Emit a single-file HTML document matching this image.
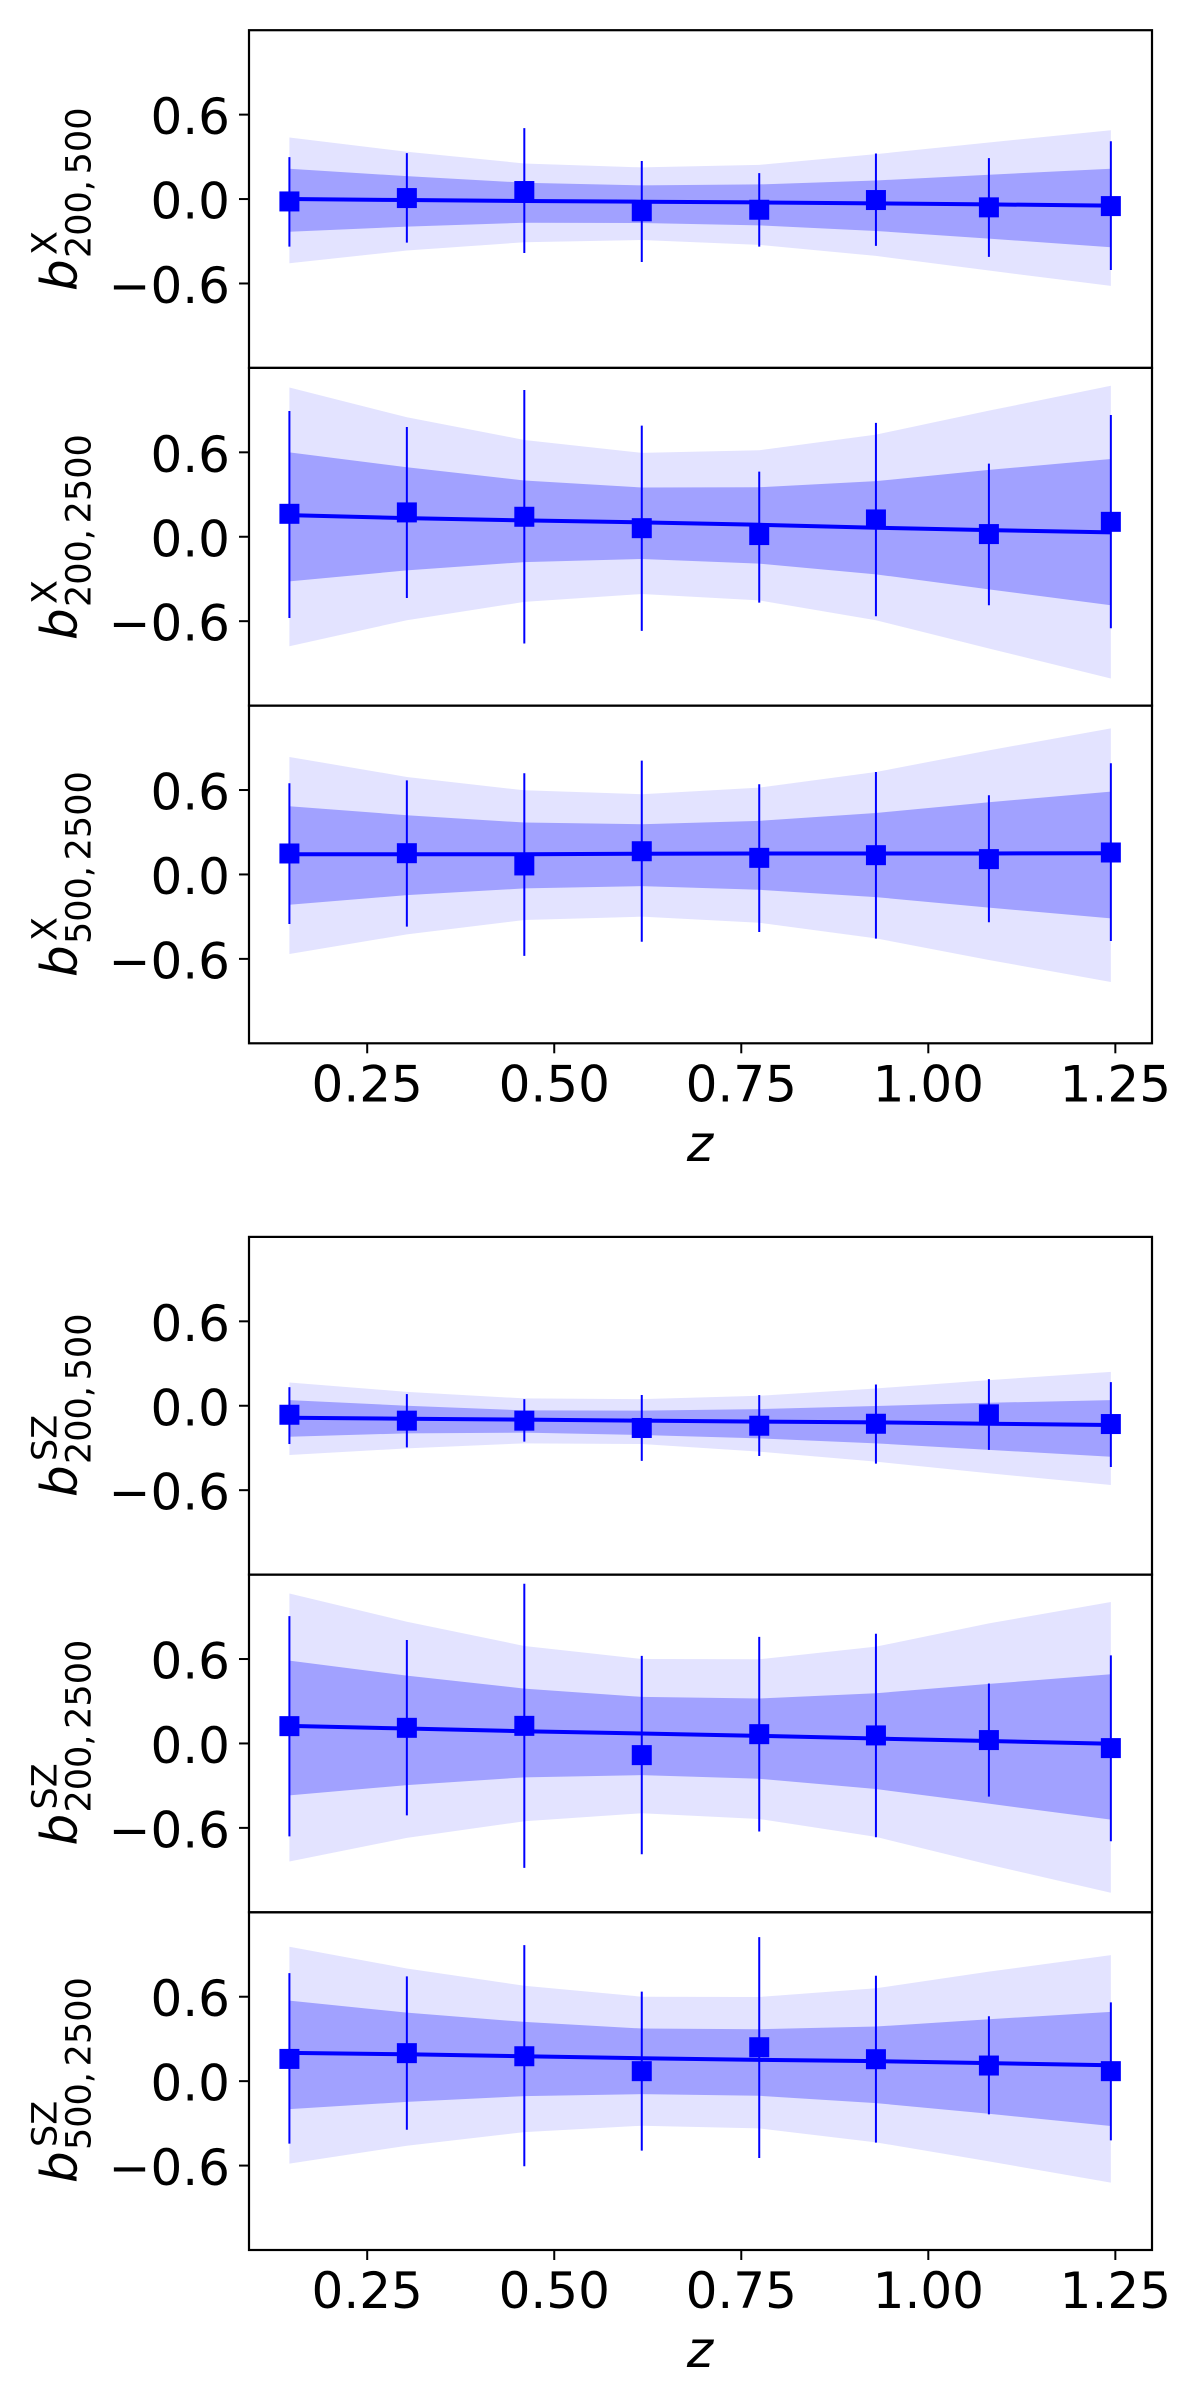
<!DOCTYPE html>
<html lang="en">
<head>
<meta charset="utf-8">
<title>Bias parameters versus redshift</title>
<style>
html,body{margin:0;padding:0;background:#fff;}
svg{display:block;}
text{font-family:"DejaVu Sans","Liberation Sans",sans-serif;fill:#000;}
.b{font-size:50px;font-style:italic;}
.sub{font-size:35px;word-spacing:-5.4px;}
.sup{font-size:35px;}
.tick-text{font-size:50px;}
.axis-z{font-size:50px;font-style:italic;}
</style>
</head>
<body>
<svg id="chart" width="1200" height="2386" viewBox="0 0 1200 2386" xmlns="http://www.w3.org/2000/svg">
  <rect x="0" y="0" width="1200" height="2386" fill="#fff"/>
  <g id="p0"></g>
  <g id="p1"></g>
  <g id="p2"></g>
  <g id="p3"></g>
  <g id="p4"></g>
  <g id="p5"></g>

  <g transform="translate(76.7,291) rotate(-90)">
    <text class="b" x="0" y="0">b</text><text class="sup" x="36" y="-20">X</text><text class="sub" x="33" y="14">200, 500</text>
  </g>
  <g transform="translate(76.7,640) rotate(-90)">
    <text class="b" x="0" y="0">b</text><text class="sup" x="36" y="-20">X</text><text class="sub" x="33" y="14">200, 2500</text>
  </g>
  <g transform="translate(76.7,977) rotate(-90)">
    <text class="b" x="0" y="0">b</text><text class="sup" x="36" y="-20">X</text><text class="sub" x="33" y="14">500, 2500</text>
  </g>
  <g transform="translate(76.7,1497) rotate(-90)">
    <text class="b" x="0" y="0">b</text><text class="sup" x="36" y="-20">SZ</text><text class="sub" x="33" y="14">200, 500</text>
  </g>
  <g transform="translate(76.7,1845.5) rotate(-90)">
    <text class="b" x="0" y="0">b</text><text class="sup" x="36" y="-20">SZ</text><text class="sub" x="33" y="14">200, 2500</text>
  </g>
  <g transform="translate(76.7,2183) rotate(-90)">
    <text class="b" x="0" y="0">b</text><text class="sup" x="36" y="-20">SZ</text><text class="sub" x="33" y="14">500, 2500</text>
  </g>

  <text class="axis-z" x="700" y="1161" text-anchor="middle">z</text>
  <text class="axis-z" x="700" y="2367" text-anchor="middle">z</text>
</svg>
<script>
// Shared axis data
const redshifts = [0.146, 0.303, 0.460, 0.617, 0.774, 0.930, 1.081, 1.244];
const yTickValues = [-0.6, 0.0, 0.6];
const xTickValues = [0.25, 0.50, 0.75, 1.00, 1.25];

// Panel: b^X 200,500
const x200500OuterUpper = [0.437, 0.336, 0.253, 0.225, 0.243, 0.319, 0.402, 0.489];
const x200500InnerUpper = [0.215, 0.163, 0.116, 0.097, 0.104, 0.132, 0.173, 0.215];
const x200500InnerLower = [-0.232, -0.196, -0.168, -0.170, -0.187, -0.227, -0.281, -0.343];
const x200500OuterLower = [-0.456, -0.366, -0.307, -0.291, -0.326, -0.404, -0.508, -0.617];
const x200500Fit = [0.000, -0.007, -0.014, -0.019, -0.024, -0.031, -0.038, -0.047];
const x200500Points = [-0.017, 0.007, 0.057, -0.087, -0.076, -0.007, -0.059, -0.050];
const x200500ErrHigh = [0.298, 0.326, 0.504, 0.270, 0.184, 0.324, 0.291, 0.411];
const x200500ErrLow = [-0.338, -0.310, -0.383, -0.447, -0.338, -0.333, -0.411, -0.504];

// Panel: b^X 200,2500
const x2002500OuterUpper = [1.061, 0.849, 0.688, 0.596, 0.615, 0.726, 0.896, 1.073];
const x2002500InnerUpper = [0.600, 0.494, 0.400, 0.350, 0.352, 0.395, 0.475, 0.553];
const x2002500InnerLower = [-0.317, -0.239, -0.180, -0.158, -0.191, -0.267, -0.374, -0.487];
const x2002500OuterLower = [-0.778, -0.593, -0.463, -0.407, -0.452, -0.593, -0.794, -1.007];
const x2002500Fit = [0.154, 0.132, 0.116, 0.102, 0.085, 0.064, 0.047, 0.031];
const x2002500Points = [0.163, 0.173, 0.142, 0.061, 0.012, 0.123, 0.019, 0.106];
const x2002500ErrHigh = [0.894, 0.780, 1.043, 0.790, 0.463, 0.809, 0.520, 0.865];
const x2002500ErrLow = [-0.577, -0.435, -0.759, -0.669, -0.468, -0.565, -0.487, -0.650];

// Panel: b^X 500,2500
const x5002500OuterUpper = [0.835, 0.693, 0.598, 0.570, 0.617, 0.728, 0.882, 1.038];
const x5002500InnerUpper = [0.485, 0.421, 0.369, 0.357, 0.381, 0.437, 0.513, 0.589];
const x5002500InnerLower = [-0.215, -0.147, -0.099, -0.083, -0.109, -0.161, -0.236, -0.312];
const x5002500OuterLower = [-0.565, -0.426, -0.324, -0.300, -0.343, -0.454, -0.608, -0.764];
const x5002500Fit = [0.144, 0.144, 0.144, 0.147, 0.149, 0.149, 0.149, 0.151];
const x5002500Points = [0.149, 0.151, 0.064, 0.165, 0.118, 0.137, 0.109, 0.156];
const x5002500ErrHigh = [0.648, 0.669, 0.719, 0.809, 0.641, 0.728, 0.563, 0.790];
const x5002500ErrLow = [-0.352, -0.371, -0.579, -0.478, -0.409, -0.456, -0.340, -0.473];

// Panel: b^SZ 200,500
const sz200500OuterUpper = [0.165, 0.099, 0.052, 0.047, 0.071, 0.123, 0.182, 0.241];
const sz200500InnerUpper = [0.040, 0.000, -0.033, -0.035, -0.024, -0.002, 0.021, 0.040];
const sz200500InnerLower = [-0.220, -0.196, -0.191, -0.208, -0.232, -0.267, -0.314, -0.362];
const sz200500OuterLower = [-0.350, -0.303, -0.267, -0.272, -0.326, -0.397, -0.480, -0.563];
const sz200500Fit = [-0.085, -0.092, -0.099, -0.106, -0.113, -0.118, -0.128, -0.137];
const sz200500Points = [-0.064, -0.106, -0.106, -0.158, -0.142, -0.128, -0.061, -0.130];
const sz200500ErrHigh = [0.132, 0.083, 0.047, 0.076, 0.076, 0.151, 0.189, 0.168];
const sz200500ErrLow = [-0.272, -0.296, -0.255, -0.392, -0.357, -0.411, -0.314, -0.435];

// Panel: b^SZ 200,2500
const sz2002500OuterUpper = [1.066, 0.865, 0.693, 0.600, 0.598, 0.688, 0.853, 1.005];
const sz2002500InnerUpper = [0.589, 0.482, 0.390, 0.331, 0.319, 0.357, 0.423, 0.492];
const sz2002500InnerLower = [-0.369, -0.296, -0.241, -0.225, -0.251, -0.324, -0.428, -0.541];
const sz2002500OuterLower = [-0.839, -0.671, -0.553, -0.496, -0.537, -0.664, -0.861, -1.061];
const sz2002500Fit = [0.125, 0.106, 0.087, 0.071, 0.054, 0.035, 0.017, -0.002];
const sz2002500Points = [0.123, 0.111, 0.125, -0.083, 0.066, 0.057, 0.024, -0.033];
const sz2002500ErrHigh = [0.905, 0.735, 1.135, 0.622, 0.757, 0.780, 0.426, 0.626];
const sz2002500ErrLow = [-0.660, -0.511, -0.884, -0.787, -0.626, -0.667, -0.378, -0.695];

// Panel: b^SZ 500,2500
const sz5002500OuterUpper = [0.955, 0.801, 0.678, 0.600, 0.598, 0.660, 0.778, 0.896];
const sz5002500InnerUpper = [0.572, 0.487, 0.421, 0.374, 0.369, 0.388, 0.440, 0.492];
const sz5002500InnerLower = [-0.199, -0.147, -0.106, -0.092, -0.104, -0.156, -0.232, -0.319];
const sz5002500OuterLower = [-0.586, -0.459, -0.362, -0.317, -0.336, -0.435, -0.570, -0.721];
const sz5002500Fit = [0.201, 0.191, 0.177, 0.163, 0.151, 0.142, 0.128, 0.113];
const sz5002500Points = [0.158, 0.199, 0.177, 0.071, 0.241, 0.156, 0.111, 0.071];
const sz5002500ErrHigh = [0.768, 0.745, 0.967, 0.636, 1.024, 0.749, 0.461, 0.560];
const sz5002500ErrLow = [-0.444, -0.345, -0.605, -0.494, -0.546, -0.437, -0.236, -0.421];

// Layout of the figure (pixels)
const PLOT_LEFT = 249;
const PLOT_RIGHT = 1152;
const PANEL_HEIGHT = 337.7;
const panelTops = [30.2, 367.9, 705.6, 1236.9, 1574.6, 1912.3];
const X_MIN = 0.092;
const X_MAX = 1.299;
const Y_MAX = 1.2;
const NS = 'http://www.w3.org/2000/svg';

function xScale(z) {
  return PLOT_LEFT + (z - X_MIN) / (X_MAX - X_MIN) * (PLOT_RIGHT - PLOT_LEFT);
}
function yScale(top, v) {
  return top + (Y_MAX - v) / (2 * Y_MAX) * PANEL_HEIGHT;
}
function shape(parent, tag, attrs) {
  const node = document.createElementNS(NS, tag);
  Object.keys(attrs).forEach(function (k) { node.setAttribute(k, attrs[k]); });
  parent.appendChild(node);
  return node;
}
function bandPath(top, upper, lower) {
  const up = redshifts.map(function (z, i) { return xScale(z).toFixed(2) + ',' + yScale(top, upper[i]).toFixed(2); });
  const low = redshifts.map(function (z, i) { return xScale(z).toFixed(2) + ',' + yScale(top, lower[i]).toFixed(2); }).reverse();
  return 'M' + up.concat(low).join('L') + 'Z';
}
function fmtY(v) {
  return (v < 0 ? '\u2212' : '') + Math.abs(v).toFixed(1);
}

function drawPanel(index, outerUp, innerUp, innerLow, outerLow, fit, points, errHigh, errLow, showX) {
  const top = panelTops[index];
  const g = document.getElementById('p' + index);
  let el;

  el = shape(g, 'path', { d: bandPath(top, outerUp, outerLow), fill: '#e3e3ff' });
  
  

  el = shape(g, 'path', { d: bandPath(top, innerUp, innerLow), fill: '#a1a1ff' });
  
  

  const fitPoints = redshifts.map(function (z, i) { return xScale(z).toFixed(2) + ',' + yScale(top, fit[i]).toFixed(2); }).join(' ');
  el = shape(g, 'polyline', { points: fitPoints, fill: 'none', stroke: '#0000ff', 'stroke-width': 4 });
  
  

  redshifts.forEach(function (z, i) {
    const px = xScale(z);
    const bar = shape(g, 'line', { x1: px, x2: px, y1: yScale(top, errLow[i]), y2: yScale(top, errHigh[i]), stroke: '#0000ff', 'stroke-width': 2 });
    
    

    const marker = shape(g, 'rect', { x: px - 10, y: yScale(top, points[i]) - 10, width: 20, height: 20, fill: '#0000ff' });
    
    
  });

  yTickValues.forEach(function (v) {
    const py = yScale(top, v);
    const tick = shape(g, 'line', { x1: PLOT_LEFT - 10, x2: PLOT_LEFT, y1: py, y2: py, stroke: '#000', 'stroke-width': 2 });
    
    

    const label = shape(g, 'text', { x: 230, y: py + 19.5, 'text-anchor': 'end', 'class': 'tick-text' });
    label.textContent = fmtY(v);
    
    
  });

  if (showX) {
    xTickValues.forEach(function (z) {
      const px = xScale(z);
      const bottom = top + PANEL_HEIGHT;
      const tick = shape(g, 'line', { x1: px, x2: px, y1: bottom, y2: bottom + 10, stroke: '#000', 'stroke-width': 2 });
      
      

      const label = shape(g, 'text', { x: px, y: bottom + 58, 'text-anchor': 'middle', 'class': 'tick-text' });
      label.textContent = z.toFixed(2);
      
      
    });
  }

  el = shape(g, 'rect', { x: PLOT_LEFT, y: top, width: PLOT_RIGHT - PLOT_LEFT, height: PANEL_HEIGHT, fill: 'none', stroke: '#000', 'stroke-width': 2.2 });
  
  
}

drawPanel(0, x200500OuterUpper, x200500InnerUpper, x200500InnerLower, x200500OuterLower, x200500Fit, x200500Points, x200500ErrHigh, x200500ErrLow, false);
drawPanel(1, x2002500OuterUpper, x2002500InnerUpper, x2002500InnerLower, x2002500OuterLower, x2002500Fit, x2002500Points, x2002500ErrHigh, x2002500ErrLow, false);
drawPanel(2, x5002500OuterUpper, x5002500InnerUpper, x5002500InnerLower, x5002500OuterLower, x5002500Fit, x5002500Points, x5002500ErrHigh, x5002500ErrLow, true);
drawPanel(3, sz200500OuterUpper, sz200500InnerUpper, sz200500InnerLower, sz200500OuterLower, sz200500Fit, sz200500Points, sz200500ErrHigh, sz200500ErrLow, false);
drawPanel(4, sz2002500OuterUpper, sz2002500InnerUpper, sz2002500InnerLower, sz2002500OuterLower, sz2002500Fit, sz2002500Points, sz2002500ErrHigh, sz2002500ErrLow, false);
drawPanel(5, sz5002500OuterUpper, sz5002500InnerUpper, sz5002500InnerLower, sz5002500OuterLower, sz5002500Fit, sz5002500Points, sz5002500ErrHigh, sz5002500ErrLow, true);
</script>
</body>
</html>
